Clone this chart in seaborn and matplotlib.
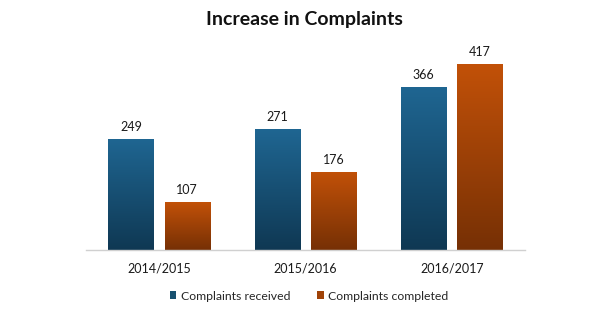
import numpy as np
import pandas as pd
import matplotlib
matplotlib.use("Agg")
import matplotlib.pyplot as plt
import seaborn as sns
from matplotlib.colors import LinearSegmentedColormap
from matplotlib.patches import Patch

# ---- data ----
years = ["2014/2015", "2015/2016", "2016/2017"]
received = [249, 271, 366]
completed = [107, 176, 417]
series_names = ["Complaints received", "Complaints completed"]
title = "Increase in Complaints"

# ---- styles ----
top_colors = ["#1f6692", "#c25108"]
bottom_colors = ["#0f3853", "#763005"]
legend_colors = ["#17506f", "#a04307"]

df = pd.DataFrame({
    "year": years * 2,
    "value": received + completed,
    "series": [series_names[0]] * len(years) + [series_names[1]] * len(years),
})

sns.set_theme(style="white")
plt.rcParams["font.family"] = ["Lato", "DejaVu Sans"]

W, H = 602, 328
fig = plt.figure(figsize=(W / 100, H / 100), dpi=100)
fig.patch.set_facecolor("white")
ax_h = 450 * 0.446
ax = fig.add_axes([86 / W, (H - 250) / H, 439 / W, ax_h / H])

sns.barplot(data=df, x="year", y="value", hue="series", order=years,
            hue_order=series_names, palette=legend_colors, width=0.77, gap=0.2,
            ax=ax, legend=False, saturation=1)

ax.set_ylim(0, 450)
ax.set_xlim(-0.5, 2.5)

# gradient fills for bars
grad = np.linspace(1, 0, 256).reshape(-1, 1)
patches = list(ax.patches)
n = len(years)
for i, p in enumerate(patches):
    s = i // n
    cmap = LinearSegmentedColormap.from_list("g%d" % s, [bottom_colors[s], top_colors[s]])
    x0, y0 = p.get_x(), p.get_y()
    w, h = p.get_width(), p.get_height()
    im = ax.imshow(grad, cmap=cmap, vmin=0, vmax=1, aspect="auto",
                   extent=[x0, x0 + w, y0, y0 + h], zorder=p.get_zorder(),
                   interpolation="bilinear")
    im.set_clip_path(p)
    p.set_facecolor("none")
    p.set_edgecolor("none")
    ax.text(x0 + w / 2, y0 + h + 13, f"{int(round(h))}", ha="center", va="bottom",
            fontsize=9, color="#1a1a1a")

ax.set_xlim(-0.5, 2.5)
ax.set_ylim(0, 450)
ax.set_xlabel("")
ax.set_ylabel("")
ax.set_yticks([])
ax.tick_params(axis="x", length=0, pad=9, labelsize=9, colors="#1a1a1a")
for side in ["top", "right", "left"]:
    ax.spines[side].set_visible(False)
ax.spines["bottom"].set_color("#d0d0d0")
ax.spines["bottom"].set_linewidth(1)
ax.set_facecolor("none")

fig.text(304 / W, 1 - 20 / H, title, ha="center", va="center",
         fontsize=14, fontweight="bold", color="#111111")

handles = [Patch(facecolor=c, edgecolor="none") for c in legend_colors]
fig.legend(handles, series_names, loc="center", bbox_to_anchor=(309 / W, 1 - 296 / H),
           ncol=2, frameon=False, fontsize=8.8, handlelength=0.55, handleheight=0.55,
           handletextpad=0.35, columnspacing=2.2)

fig.savefig("out.png", dpi=100, facecolor="white")
